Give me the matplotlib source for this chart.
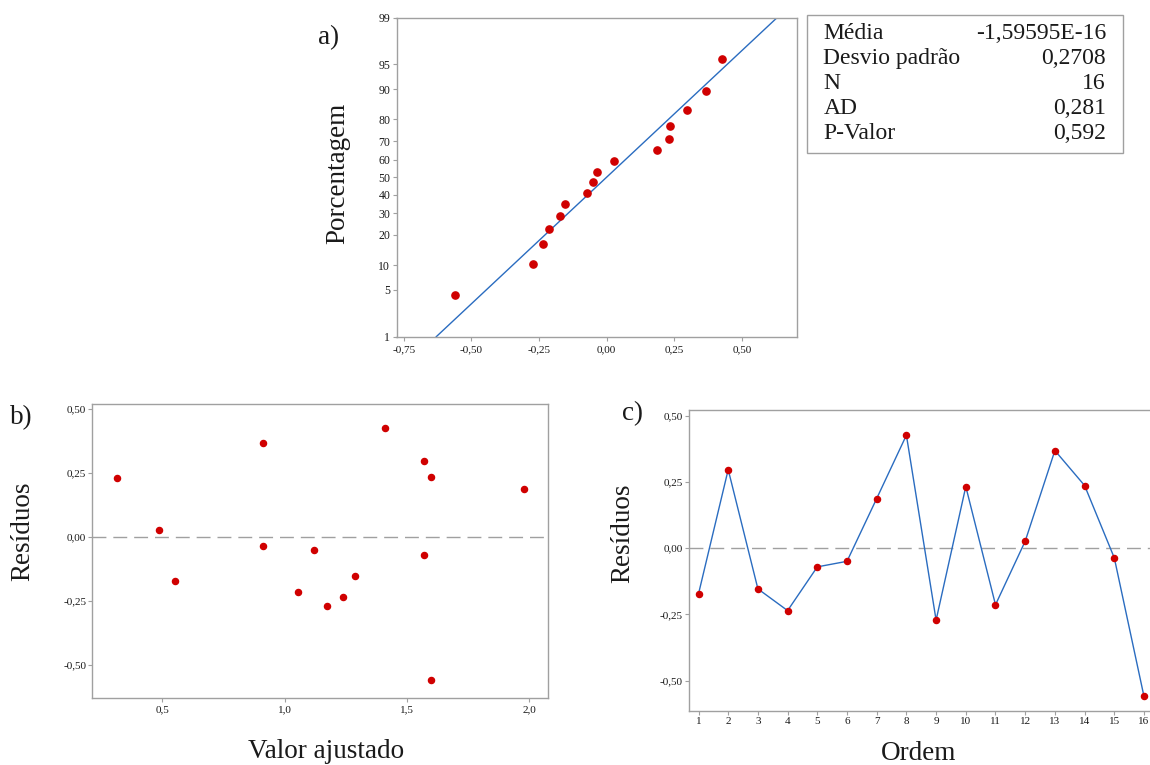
import math
from statistics import NormalDist

import numpy as np
import matplotlib
matplotlib.use("Agg")
import matplotlib.pyplot as plt
from matplotlib.ticker import FixedLocator, FuncFormatter, NullLocator

plt.rcParams['font.family'] = ['Liberation Serif', 'DejaVu Serif']
plt.rcParams['axes.unicode_minus'] = False

# ---- data -------------------------------------------------------------
order = list(range(1, 17))
residuals = [-0.173, 0.296, -0.154, -0.236, -0.071, -0.050, 0.187, 0.426,
             -0.272, 0.232, -0.214, 0.026, 0.368, 0.236, -0.037, -0.560]
fitted = [0.552, 1.571, 1.286, 1.240, 1.571, 1.120, 1.977, 1.410,
          1.174, 0.314, 1.056, 0.488, 0.910, 1.597, 0.910, 1.597]

stat_names = ["Média", "Desvio padrão", "N", "AD", "P-Valor"]
stat_values = ["-1,59595E-16", "0,2708", "16", "0,281", "0,592"]
fit_mean = -1.59595e-16
fit_sd = 0.2708

pct_ticks = [1, 5, 10, 20, 30, 40, 50, 60, 70, 80, 90, 95, 99]
a_xticks = [-0.75, -0.50, -0.25, 0.00, 0.25, 0.50]
b_xticks = [0.5, 1.0, 1.5, 2.0]
res_ticks = [-0.50, -0.25, 0.00, 0.25, 0.50]

# ---- styling ----------------------------------------------------------
W, H = 1150, 765
SPINE = '#a0a0a0'
RED = '#d00000'
BLUE = '#2a6cc0'
TXT = '#1a1a1a'
LABEL_FS = 19.5
TICK_FS = 8

fig = plt.figure(figsize=(W / 100, H / 100), dpi=100)


def px_axes(left, top, right, bottom):
    return fig.add_axes([left / W, 1 - bottom / H, (right - left) / W, (bottom - top) / H])


def style(ax, xpad=2.0, ypad=1.5):
    for s in ax.spines.values():
        s.set_color(SPINE)
        s.set_linewidth(1.0)
    ax.tick_params(axis='both', direction='out', length=3, width=0.8,
                   color=SPINE, labelcolor=TXT, labelsize=TICK_FS)
    ax.tick_params(axis='x', pad=xpad)
    ax.tick_params(axis='y', pad=ypad)


def comma(fmt):
    return FuncFormatter(lambda v, _: (fmt % v).replace('.', ','))


# normal probability scale (percent <-> z)
_nd = NormalDist()
_ppf = np.vectorize(lambda p: _nd.inv_cdf(p), otypes=[float])
_erf = np.vectorize(math.erf, otypes=[float])


def prob_fwd(p):
    p = np.clip(np.asarray(p, dtype=float), 1e-9, 100 - 1e-9)
    return _ppf(p / 100.0)


def prob_inv(z):
    z = np.asarray(z, dtype=float)
    return 50.0 * (1.0 + _erf(z / math.sqrt(2.0)))


# ---- a) normal probability plot --------------------------------------
ax_a = px_axes(396.5, 17.7, 797.3, 336.7)
style(ax_a, xpad=3.5, ypad=1.5)
ax_a.set_yscale('function', functions=(prob_fwd, prob_inv))
ax_a.set_ylim(1, 99)
ax_a.set_xlim(-0.777, 0.705)

res_sorted = np.sort(np.asarray(residuals))
n = len(res_sorted)
ranks = np.arange(1, n + 1)
plot_pct = (ranks - 0.3) / (n + 0.4) * 100.0   # median-rank plotting positions

line_pct = np.array([1.0, 99.0])
line_x = fit_mean + fit_sd * prob_fwd(line_pct)
ax_a.plot(line_x, line_pct, color=BLUE, lw=1.0, zorder=2)
ax_a.plot(res_sorted, plot_pct, 'o', color=RED, ms=5.2, mec=RED, zorder=3)

ax_a.yaxis.set_major_locator(FixedLocator(pct_ticks))
ax_a.yaxis.set_minor_locator(NullLocator())
ax_a.yaxis.set_major_formatter(FuncFormatter(lambda v, _: "%d" % round(v)))
ax_a.xaxis.set_major_locator(FixedLocator(a_xticks))
ax_a.xaxis.set_major_formatter(comma("%.2f"))
ax_a.tick_params(axis='y', labelsize=8.5)
ax_a.set_ylabel("Porcentagem", fontsize=LABEL_FS, color=TXT)
ax_a.yaxis.set_label_coords((337.5 - 396.5) / (797.3 - 396.5), (336.7 - 173) / (336.7 - 17.7))
ax_a.yaxis.label.set_va('center')

fig.text(318 / W, 1 - 44 / H, "a)", fontsize=LABEL_FS, color=TXT, va='baseline', ha='left')

# statistics box
box_l, box_t, box_r, box_b = 807.3, 15.0, 1123.3, 153.3
fig.patches.append(plt.Rectangle((box_l / W, 1 - box_b / H), (box_r - box_l) / W,
                                 (box_b - box_t) / H, transform=fig.transFigure,
                                 fill=False, edgecolor=SPINE, lw=1.0))
for i, (name, val) in enumerate(zip(stat_names, stat_values)):
    y = 1 - (39.0 + 25.0 * i) / H
    fig.text(823.3 / W, y, name, fontsize=17, color=TXT, va='baseline', ha='left')
    fig.text(1106 / W, y, val, fontsize=17, color=TXT, va='baseline', ha='right')

# ---- b) residuals vs fitted ------------------------------------------
ax_b = px_axes(92.5, 404.5, 548.0, 698.0)
style(ax_b)
ax_b.set_xlim(0.2155, 2.076)
ax_b.set_ylim(-0.630, 0.518)
ax_b.axhline(0, color=SPINE, lw=1.0, ls=(0, (10, 5)), zorder=1)
ax_b.plot(fitted, residuals, 'o', color=RED, ms=4.4, mec=RED, zorder=3)
ax_b.xaxis.set_major_locator(FixedLocator(b_xticks))
ax_b.xaxis.set_major_formatter(comma("%.1f"))
ax_b.yaxis.set_major_locator(FixedLocator(res_ticks))
ax_b.yaxis.set_major_formatter(comma("%.2f"))
ax_b.set_xlabel("Valor ajustado", fontsize=LABEL_FS, color=TXT)
ax_b.xaxis.set_label_coords((326 - 92.5) / (548.0 - 92.5), -(758 - 698.0) / (698.0 - 404.5))
ax_b.xaxis.label.set_va('baseline')
ax_b.set_ylabel("Resíduos", fontsize=LABEL_FS, color=TXT)
ax_b.yaxis.set_label_coords(-(92.5 - 22.5) / (548.0 - 92.5), (698.0 - 531.5) / (698.0 - 404.5))
ax_b.yaxis.label.set_va('center')

fig.text(10 / W, 1 - 424 / H, "b)", fontsize=LABEL_FS, color=TXT, va='baseline', ha='left')

# ---- c) residuals vs order -------------------------------------------
ax_c = px_axes(689.0, 410.0, 1153.5, 710.5)
style(ax_c)
ax_c.set_xlim(0.68, 16.32)
ax_c.set_ylim(-0.613, 0.521)
ax_c.axhline(0, color=SPINE, lw=1.0, ls=(0, (10, 5)), zorder=1)
ax_c.plot(order, residuals, '-', color=BLUE, lw=1.0, zorder=2)
ax_c.plot(order, residuals, 'o', color=RED, ms=4.4, mec=RED, zorder=3)
ax_c.xaxis.set_major_locator(FixedLocator(order))
ax_c.yaxis.set_major_locator(FixedLocator(res_ticks))
ax_c.yaxis.set_major_formatter(comma("%.2f"))
ax_c.set_xlabel("Ordem", fontsize=LABEL_FS, color=TXT)
ax_c.xaxis.set_label_coords((919 - 689.0) / (1153.5 - 689.0), -(760 - 710.5) / (710.5 - 410.0))
ax_c.xaxis.label.set_va('baseline')
ax_c.set_ylabel("Resíduos", fontsize=LABEL_FS, color=TXT)
ax_c.yaxis.set_label_coords(-(689.0 - 622.5) / (1153.5 - 689.0), (710.5 - 533) / (710.5 - 410.0))
ax_c.yaxis.label.set_va('center')

fig.text(622 / W, 1 - 420 / H, "c)", fontsize=LABEL_FS, color=TXT, va='baseline', ha='left')

fig.savefig("out.png", dpi=100, facecolor='white')
